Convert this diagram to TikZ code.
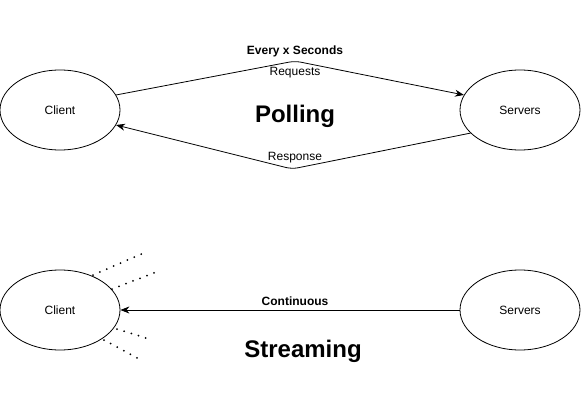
\documentclass[tikz,border=0pt]{standalone}
\usepackage{fontspec}
\setmainfont{Liberation Sans}
\usetikzlibrary{arrows.meta,shapes.geometric}
\begin{document}
\begin{tikzpicture}[x=1pt,y=-1pt,
  ell/.style={draw,ellipse,minimum width=120pt,minimum height=80pt,inner sep=0pt,font=\fontsize{12}{14}\selectfont,line width=0.8pt},
  conn/.style={line width=0.8pt,-{Stealth[length=9pt,width=7pt]},rounded corners=6pt},
  lbl/.style={font=\fontsize{12}{14}\selectfont,inner sep=1pt},
  blbl/.style={font=\bfseries\fontsize{12}{14}\selectfont,inner sep=1pt},
  title/.style={font=\bfseries\fontsize{24}{28}\selectfont,inner sep=1pt},
  dots/.style={line width=2pt,line cap=round,dash pattern=on 0pt off 7.5pt}]
\useasboundingbox (0,0) rectangle (581,401);
\node[ell] (c1) at (60,110) {\raisebox{-1.2pt}{Client}};
\node[ell] (s1) at (520,110) {\raisebox{-1.2pt}{Servers}};
\node[ell] (c2) at (60,310) {\raisebox{-1.2pt}{Client}};
\node[ell] (s2) at (520,310) {\raisebox{-1.2pt}{Servers}};
\coordinate (top) at (295,61);
\coordinate (bot) at (292,169);
\draw[conn] (c1.15) -- (top) -- (s1.165);
\draw[conn] (s1.205) -- (bot) -- (c1.345);
\draw[conn] (s2.west) -- (c2.east);
\node[blbl] (every) at (295,51.5) {Every x Seconds};
\node[lbl] (req) at (295,72.5) {Requests};
\node[title] (poll) at (295,116.5) {Polling};
\node[lbl] (resp) at (295,157.5) {Response};
\node[blbl] (cont) at (295,301.5) {Continuous};
\node[title] (stream) at (303,351.5) {Streaming};
\draw[dots] (93,275) -- (146,252);
\draw[dots] (112,289) -- (159,271);
\draw[dots] (117,329) -- (149,339);
\draw[dots] (104,340) -- (139,359);
\end{tikzpicture}
\end{document}
